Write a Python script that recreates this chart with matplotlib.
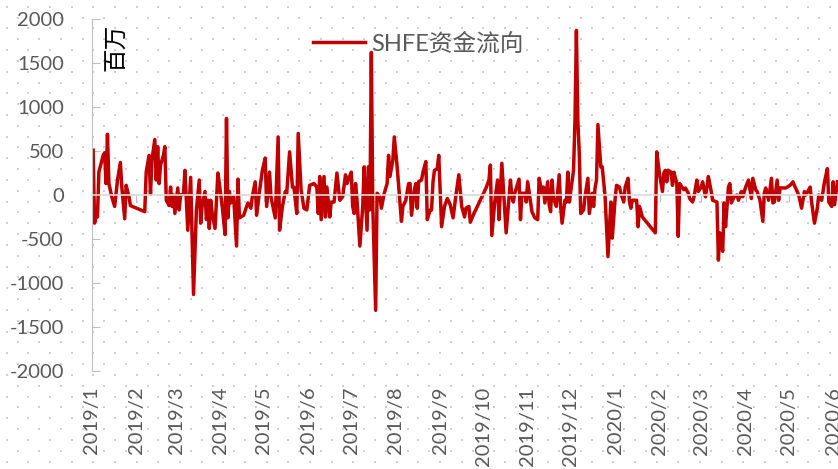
import matplotlib.pyplot as plt
import numpy as np
import pandas as pd

plt.rcParams['font.family'] = ['Lato', 'Noto Sans CJK SC']
plt.rcParams['axes.unicode_minus'] = False

# SHFE 资金流向，单位：百万
dates = [
    '2019-01-02', '2019-01-03', '2019-01-04', '2019-01-05', '2019-01-06', '2019-01-09', '2019-01-10', '2019-01-11',
    '2019-01-12', '2019-01-13', '2019-01-15', '2019-01-17', '2019-01-19', '2019-01-21', '2019-01-22', '2019-01-24',
    '2019-01-25', '2019-01-27', '2019-01-28', '2019-02-07', '2019-02-08', '2019-02-10', '2019-02-11', '2019-02-12',
    '2019-02-14', '2019-02-15', '2019-02-16', '2019-02-17', '2019-02-18', '2019-02-20', '2019-02-21', '2019-02-22',
    '2019-02-24', '2019-02-25', '2019-02-26', '2019-02-27', '2019-02-28', '2019-03-02', '2019-03-03', '2019-03-04',
    '2019-03-06', '2019-03-07', '2019-03-09', '2019-03-11', '2019-03-13', '2019-03-15', '2019-03-17', '2019-03-18',
    '2019-03-19', '2019-03-21', '2019-03-22', '2019-03-23', '2019-03-24', '2019-03-25', '2019-03-26', '2019-03-28',
    '2019-03-30', '2019-03-31', '2019-04-02', '2019-04-04', '2019-04-05', '2019-04-06', '2019-04-07', '2019-04-08',
    '2019-04-10', '2019-04-12', '2019-04-13', '2019-04-14', '2019-04-17', '2019-04-19', '2019-04-20', '2019-04-22',
    '2019-04-23', '2019-04-25', '2019-04-26', '2019-04-28', '2019-04-30', '2019-05-02', '2019-05-03', '2019-05-05',
    '2019-05-06', '2019-05-09', '2019-05-11', '2019-05-12', '2019-05-14', '2019-05-16', '2019-05-17', '2019-05-19',
    '2019-05-21', '2019-05-22', '2019-05-24', '2019-05-25', '2019-05-27', '2019-05-29', '2019-05-31', '2019-06-02',
    '2019-06-05', '2019-06-07', '2019-06-08', '2019-06-09', '2019-06-10', '2019-06-12', '2019-06-13', '2019-06-14',
    '2019-06-16', '2019-06-17', '2019-06-19', '2019-06-21', '2019-06-23', '2019-06-25', '2019-06-27', '2019-06-28',
    '2019-07-01', '2019-07-02', '2019-07-03', '2019-07-04', '2019-07-05', '2019-07-07', '2019-07-09', '2019-07-10',
    '2019-07-12', '2019-07-13', '2019-07-14', '2019-07-15', '2019-07-16', '2019-07-18', '2019-07-19', '2019-07-21',
    '2019-07-22', '2019-07-24', '2019-07-26', '2019-07-27', '2019-07-28', '2019-07-30', '2019-07-31', '2019-08-02',
    '2019-08-05', '2019-08-06', '2019-08-08', '2019-08-10', '2019-08-11', '2019-08-12', '2019-08-14', '2019-08-15',
    '2019-08-16', '2019-08-17', '2019-08-19', '2019-08-20', '2019-08-22', '2019-08-23', '2019-08-25', '2019-08-26',
    '2019-08-27', '2019-08-28', '2019-08-30', '2019-08-31', '2019-09-02', '2019-09-04', '2019-09-06', '2019-09-08',
    '2019-09-10', '2019-09-12', '2019-09-14', '2019-09-16', '2019-09-18', '2019-09-19', '2019-09-21', '2019-09-22',
    '2019-09-24', '2019-10-03', '2019-10-05', '2019-10-06', '2019-10-07', '2019-10-09', '2019-10-11', '2019-10-12',
    '2019-10-14', '2019-10-17', '2019-10-20', '2019-10-21', '2019-10-22', '2019-10-23', '2019-10-26', '2019-10-27',
    '2019-10-28', '2019-10-30', '2019-10-31', '2019-11-01', '2019-11-03', '2019-11-04', '2019-11-06', '2019-11-08',
    '2019-11-09', '2019-11-11', '2019-11-12', '2019-11-13', '2019-11-15', '2019-11-16', '2019-11-17', '2019-11-18',
    '2019-11-19', '2019-11-21', '2019-11-23', '2019-11-24', '2019-11-25', '2019-11-27', '2019-11-28', '2019-11-29',
    '2019-11-30', '2019-12-03', '2019-12-04', '2019-12-05', '2019-12-06', '2019-12-07', '2019-12-08', '2019-12-10',
    '2019-12-11', '2019-12-13', '2019-12-14', '2019-12-16', '2019-12-17', '2019-12-18', '2019-12-19', '2019-12-20',
    '2019-12-22', '2019-12-23', '2019-12-25', '2019-12-27', '2019-12-28', '2019-12-29', '2019-12-30', '2020-01-01',
    '2020-01-02', '2020-01-04', '2020-01-05', '2020-01-07', '2020-01-08', '2020-01-10', '2020-01-11', '2020-01-12',
    '2020-01-13', '2020-01-16', '2020-01-17', '2020-01-18', '2020-01-20', '2020-01-29', '2020-01-30', '2020-02-01',
    '2020-02-03', '2020-02-04', '2020-02-05', '2020-02-06', '2020-02-07', '2020-02-09', '2020-02-10', '2020-02-11',
    '2020-02-12', '2020-02-13', '2020-02-14', '2020-02-15', '2020-02-17', '2020-02-18', '2020-02-19', '2020-02-21',
    '2020-02-22', '2020-02-24', '2020-02-25', '2020-02-27', '2020-02-28', '2020-03-01', '2020-03-02', '2020-03-04',
    '2020-03-05', '2020-03-06', '2020-03-08', '2020-03-09', '2020-03-12', '2020-03-13', '2020-03-14', '2020-03-16',
    '2020-03-17', '2020-03-18', '2020-03-20', '2020-03-21', '2020-03-22', '2020-03-24', '2020-03-26', '2020-03-27',
    '2020-03-29', '2020-03-30', '2020-04-01', '2020-04-03', '2020-04-05', '2020-04-06', '2020-04-08', '2020-04-09',
    '2020-04-11', '2020-04-13', '2020-04-14', '2020-04-15', '2020-04-17', '2020-04-19', '2020-04-20', '2020-04-21',
    '2020-04-23', '2020-04-24', '2020-04-25', '2020-04-29', '2020-05-02', '2020-05-04', '2020-05-05', '2020-05-08',
    '2020-05-10', '2020-05-12', '2020-05-13', '2020-05-16', '2020-05-17', '2020-05-19', '2020-05-21', '2020-05-22',
    '2020-05-24', '2020-05-26', '2020-05-28', '2020-05-29', '2020-05-31', '2020-06-01', '2020-06-02', '2020-06-04',
]
flows = [
    510, -320, -230, -250, 260, 450, 480, 130,
    690, 130, -20, -130, 170, 370, 90, -270,
    110, -20, -120, -190, 260, 450, 10, 400,
    630, 170, 550, 130, 340, 450, 550, -60,
    -120, 90, -130, 0, -210, 80, -170, 0,
    10, 280, -400, 200, -1130, -170, 170, -320,
    -130, 40, -280, -60, -380, -60, -210, -380,
    250, 130, -130, -450, 870, -260, 40, -90,
    -20, -580, 180, -260, -230, -130, -90, -150,
    -20, 150, -230, 40, 280, 420, -130, 260,
    -20, -260, 660, -400, -130, 40, 20, 490,
    90, 90, -210, 700, 60, -150, -170, 110,
    130, 90, -210, 210, -280, 210, -250, 90,
    -250, -80, -80, 250, -60, -20, 230, 130,
    260, -130, -210, 130, -60, -580, -130, 320,
    -400, 320, -170, 1620, -130, -1310, 20, -20,
    -150, 20, 130, 450, 210, 400, 660, 320,
    -300, -130, -60, 130, 130, -230, 60, 130,
    -150, 150, 170, 260, 380, -280, -170, -170,
    150, 280, 300, 450, -360, -130, -40, -110,
    -260, 0, 230, -130, -250, -150, -130, -310,
    -230, 80, 170, 340, -460, -90, 170, -280,
    360, -430, 170, -20, -80, 20, 180, -280,
    20, 20, -80, 150, -80, -190, -260, -280,
    190, 20, 90, -90, 150, -110, -190, 170,
    -40, -130, 230, -130, -320, -60, -80, 260,
    -80, 280, 850, 1870, 850, 470, -210, -170,
    -20, 190, -210, 20, -130, 80, 170, 800,
    320, 320, -20, -700, -400, -80, -490, -40,
    110, 90, 20, -80, 90, 190, -80, -150,
    -60, -60, -360, -130, -250, -430, 490, 230,
    40, 250, 280, 150, 280, 260, 110, 260,
    190, 130, -470, 130, 80, 60, 80, 20,
    -40, -80, -20, 170, 40, 90, 150, -20,
    90, 210, 40, -60, -80, -740, -430, -640,
    -90, -360, 90, 130, -90, -20, 0, -60,
    40, -20, 90, 170, -40, 190, 60, 40,
    -60, -300, 20, 80, -60, 190, -90, -80,
    170, -60, 80, 80, 110, 150, 110, 0,
    -150, 40, 0, 90, -80, -320, -150, 0,
    -60, 150, 300, -80, -130, 150, -110, 150,
]

months = pd.date_range('2019-01-01', '2020-06-01', freq='MS')
month_labels = [f'{m.year}/{m.month}' for m in months]
y_ticks = list(range(-2000, 2001, 500))

red = '#C00000'
grey = '#595959'
W, H = 838, 469

fig = plt.figure(figsize=(W / 100, H / 100), dpi=100)

# dotted background fill
bg = fig.add_axes([0, 0, 1, 1], zorder=0)
bg.set_xlim(0, W)
bg.set_ylim(H, 0)
bg.axis('off')
for i, yy in enumerate(np.arange(6.7, H, 10.83)):
    xs = np.arange(6.7 + (i % 2) * 10.83, W, 21.67)
    bg.scatter(xs, np.full(len(xs), yy), s=2.6, marker='s', color='#CFCFCF', linewidths=0)

ax = fig.add_axes([91.7 / W, 98 / H, 783 / W, 352 / H], zorder=1)
ax.patch.set_visible(False)

ax.plot(pd.to_datetime(dates), flows, color=red, lw=2.5, solid_joinstyle='round',
        label='SHFE资金流向')

ax.set_xlim(pd.Timestamp('2019-01-01'), pd.Timestamp('2020-06-30'))
ax.set_ylim(-2000, 2000)
ax.set_yticks(y_ticks)
ax.set_yticklabels([str(v) for v in y_ticks])
ax.set_xticks(months)
ax.set_xticklabels(month_labels)

ax.spines['top'].set_visible(False)
ax.spines['right'].set_visible(False)
ax.spines['left'].set_color('#BFBFBF')
ax.spines['bottom'].set_position(('data', 0))
ax.spines['bottom'].set_color('#D9D9D9')
ax.spines['bottom'].set_linewidth(1.2)
ax.tick_params(axis='y', direction='in', length=6, color='#BFBFBF',
               labelsize=14.5, labelcolor=grey, pad=20)
# month labels sit below the plot, ticks stay on the zero line
ax.tick_params(axis='x', direction='out', length=5, color='#BFBFBF',
               labelsize=14.5, labelcolor=grey, pad=133, labelrotation=90)

ax.legend(loc='center left', bbox_to_anchor=(313 / W, 1 - 43 / H),
          bbox_transform=fig.transFigure, frameon=False, fontsize=17,
          labelcolor=grey, handlelength=2.2, handletextpad=0.25,
          borderpad=0, borderaxespad=0)

fig.text(116.5 / W, 1 - 47.5 / H, '百万', rotation=90, ha='center', va='center',
         fontsize=17, family='Noto Sans CJK SC', color='black')

fig.savefig('out.png', dpi=100)
